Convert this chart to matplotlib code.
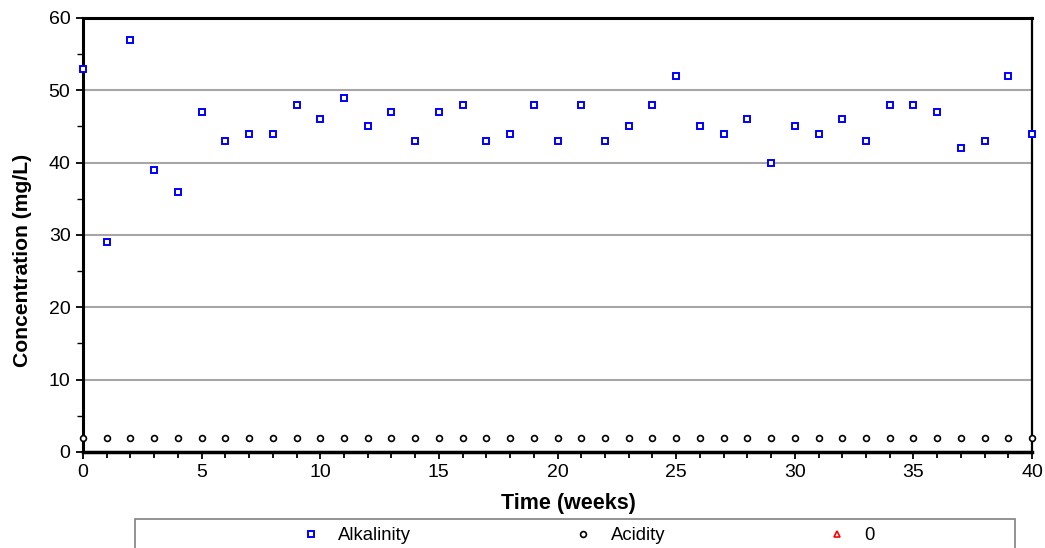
import matplotlib
matplotlib.use("Agg")
import matplotlib.pyplot as plt
from matplotlib.patches import Rectangle
from matplotlib.ticker import MultipleLocator

plt.rcParams["font.family"] = ["Liberation Sans", "DejaVu Sans"]

weeks = list(range(0, 41))
alkalinity = [53, 29, 57, 39, 36, 47, 43, 44, 44, 48, 46, 49, 45, 47, 43, 47, 48, 43, 44, 48,
              43, 48, 43, 45, 48, 52, 45, 44, 46, 40, 45, 44, 46, 43, 48, 48, 47, 42, 43, 52, 44]
acidity = [2] * 41
labels = ["Alkalinity", "Acidity", "0"]

fig = plt.figure(figsize=(10.45, 5.48), dpi=100)
ax = fig.add_axes([0.0794, 0.1752, 0.9082, 0.792])

ax.plot(weeks, alkalinity, ls="none", marker="s", ms=4.9, mfc="white", mec="#0000ff",
        mew=1.4, clip_on=False, zorder=4, label=labels[0])
ax.plot(weeks, acidity, ls="none", marker="o", ms=4.2, mfc="white", mec="black",
        mew=1.2, clip_on=False, zorder=4, label=labels[1])
# empty third series, only shows up in the legend
ax.plot([], [], ls="none", marker="^", ms=4.6, mfc="white", mec="red", mew=1.2, label=labels[2])

ax.set_xlim(0, 40)
ax.set_ylim(0, 60)
ax.xaxis.set_major_locator(MultipleLocator(5))
ax.xaxis.set_minor_locator(MultipleLocator(1))
ax.yaxis.set_major_locator(MultipleLocator(10))
ax.yaxis.set_minor_locator(MultipleLocator(5))
ax.tick_params(which="both", direction="out", colors="black", labelsize=14)
ax.tick_params(which="major", length=5, width=1.3, pad=4)
ax.tick_params(which="minor", length=4, width=1.3)
ax.tick_params(axis="y", which="minor", length=4, width=1)

ax.grid(axis="y", which="major", color="#a6a6a6", lw=1.5)
ax.set_axisbelow(True)

for side, w in [("left", 2.2), ("bottom", 2.5), ("top", 2.2), ("right", 1.6)]:
    ax.spines[side].set_linewidth(w)
    ax.spines[side].set_color("black")

ax.set_xlabel("Time (weeks)", fontsize=15.5, fontweight="bold")
ax.set_ylabel("Concentration (mg/L)", fontsize=15.2, fontweight="bold")
ax.xaxis.set_label_coords(0.512, -0.095)
ax.yaxis.set_label_coords(-0.054, 0.442)

# legend box running off the bottom edge
fig.patches.append(Rectangle((0.129, -0.05), 0.842, 0.1035, transform=fig.transFigure,
                             fill=False, edgecolor="#808080", lw=1.2))
h, l = ax.get_legend_handles_labels()
fig.legend(h, l, ncol=3, frameon=False, loc="center", bbox_to_anchor=(0.562, 0.022),
           fontsize=13.3, columnspacing=8.7, handletextpad=0.9, handlelength=1.2)

fig.savefig("out.png", dpi=100)
